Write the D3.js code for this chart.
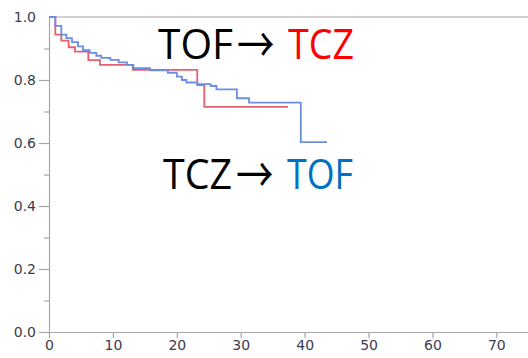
<!DOCTYPE html>
<html>
<head>
<meta charset="utf-8">
<script src="https://cdn.jsdelivr.net/npm/d3@7"></script>
<style>
  html, body { margin: 0; padding: 0; background: #fff; }
  svg { display: block; }
</style>
</head>
<body>
<svg id="chart" width="528" height="358"></svg>
<script>
// Kaplan–Meier steps: [time, survival after the event]
const tofToTcz = [
  [0.99, 0.944], [1.92, 0.925], [3.08, 0.904], [4.07, 0.890], [6.15, 0.863],
  [7.98, 0.848], [13.1, 0.832], [23.2, 0.784], [24.3, 0.715]
];
const tofToTczEnd = 37.4;

const tczToTof = [
  [0.99, 0.972], [1.93, 0.944], [2.71, 0.933], [3.6, 0.920], [4.54, 0.907],
  [5.32, 0.895], [6.37, 0.886], [7.4, 0.877], [8.18, 0.870], [9.6, 0.864],
  [10.9, 0.856], [12.2, 0.848], [13.2, 0.838], [15.8, 0.831], [18.6, 0.823],
  [20.0, 0.811], [20.8, 0.800], [21.5, 0.792], [23.2, 0.787], [25.3, 0.781],
  [26.2, 0.770], [29.4, 0.742], [31.3, 0.728], [39.4, 0.603]
];
const tczToTofEnd = 43.5;

const xTicks = [0, 10, 20, 30, 40, 50, 60, 70];
const yTicks = [0.0, 0.2, 0.4, 0.6, 0.8, 1.0];
const yMinorTicks = [0.1, 0.3, 0.5, 0.7, 0.9];

const svg = d3.select("#chart");
const axisColor = "#a6a6a6";
const labelColor = "#3b3b4f";

const x = d3.scaleLinear().domain([0, 75]).range([49, 528.3]);
const y = d3.scaleLinear().domain([0, 1]).range([332, 17]);

// blur to soften the survival curves
const defs = svg.append("defs");
defs.append("filter").attr("id", "soft")
  .attr("x", "-5%").attr("y", "-5%").attr("width", "110%").attr("height", "110%")
  .append("feGaussianBlur").attr("stdDeviation", 0.55);

// top frame line
svg.append("line")
  .attr("x1", x(0)).attr("x2", 528).attr("y1", y(1)).attr("y2", y(1))
  .attr("stroke", axisColor).attr("stroke-width", 1.2);

// y axis
const yAxis = d3.axisLeft(y).tickValues(yTicks).tickFormat(d3.format(".1f"))
  .tickSize(10).tickPadding(3);
const gy = svg.append("g").attr("transform", `translate(${x(0)},0)`).call(yAxis);
gy.selectAll(".tick")
  .filter(d => d === 1.0).select("line").remove();
gy.selectAll(".tick line").attr("stroke", axisColor).attr("stroke-width", 1.2);

const yMinor = d3.axisLeft(y).tickValues(yMinorTicks).tickFormat("").tickSize(5);
const gym = svg.append("g").attr("transform", `translate(${x(0)},0)`).call(yMinor);
gym.select(".domain").remove();
gym.selectAll(".tick line").attr("stroke", axisColor).attr("stroke-width", 1.2);

// x axis
const xAxis = d3.axisBottom(x).tickValues(xTicks).tickFormat(d3.format("d"))
  .tickSize(6).tickPadding(2);
const gx = svg.append("g").attr("transform", `translate(0,${y(0)})`).call(xAxis);
gx.selectAll(".tick line").attr("stroke", axisColor).attr("stroke-width", 1.2);

[gy, gx].forEach(g => {
  g.select(".domain").attr("stroke", axisColor).attr("stroke-width", 1.2)
    .attr("d", g === gx ? `M${x(0)},0.5H528` : `M0.5,${y(1)}V${y(0)}`);
  g.selectAll(".tick text")
    .attr("fill", labelColor)
    .style("font-family", "'DejaVu Sans', Verdana, sans-serif")
    .style("font-size", "14px");
});

// step path builder
function stepPoints(events, end) {
  const pts = [[0, 1]];
  let s = 1;
  events.forEach(([t, v]) => { pts.push([t, s]); pts.push([t, v]); s = v; });
  pts.push([end, s]);
  return pts;
}
const line = d3.line().x(d => x(d[0])).y(d => y(d[1]));

const curves = [
  { pts: stepPoints(tofToTcz, tofToTczEnd), color: "#e4606e" },
  { pts: stepPoints(tczToTof, tczToTofEnd), color: "#6a8ee6" }
];
curves.forEach(c => {
  svg.append("path").attr("d", line(c.pts))
    .attr("fill", "none").attr("stroke", c.color).attr("stroke-width", 1.8)
    .attr("filter", "url(#soft)");
});

// annotations: "A→ B", each part placed on its own
const notes = [
  { from: "TOF", to: "TCZ", toColor: "#ff0000", x0: 158, w0: 75, xa: 237, x1: 288, w1: 66, yb: 59 },
  { from: "TCZ", to: "TOF", toColor: "#0070c0", x0: 163, w0: 69, xa: 236, x1: 287, w1: 66, yb: 189 }
];
const bigFont = "'Open Sans', 'Noto Sans', sans-serif";
notes.forEach(n => {
  svg.append("text").attr("x", n.x0).attr("y", n.yb)
    .attr("textLength", n.w0).attr("lengthAdjust", "spacingAndGlyphs")
    .attr("fill", "#000")
    .style("font-family", bigFont).style("font-size", "42px")
    .text(n.from);
  svg.append("text")
    .attr("transform", `translate(${n.xa},${n.yb + 3}) scale(0.78,1)`)
    .attr("fill", "#000")
    .style("font-family", "'Noto Sans CJK JP', sans-serif")
    .style("font-size", "48px").style("font-weight", 400)
    .text("\u2192");
  svg.append("text").attr("x", n.x1).attr("y", n.yb)
    .attr("textLength", n.w1).attr("lengthAdjust", "spacingAndGlyphs")
    .attr("fill", n.toColor)
    .style("font-family", bigFont).style("font-size", "42px")
    .text(n.to);
});
</script>
</body>
</html>
